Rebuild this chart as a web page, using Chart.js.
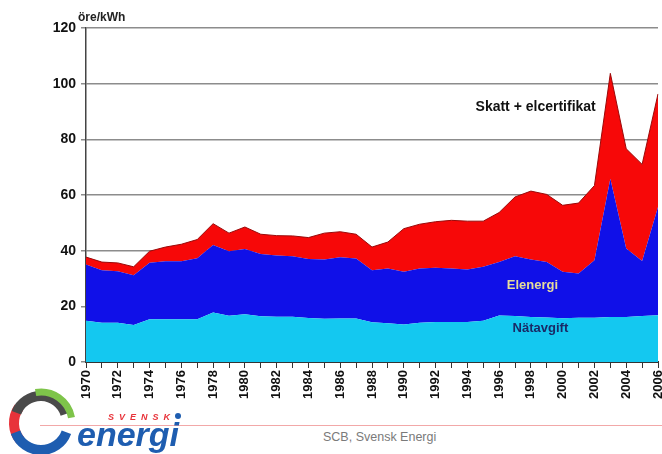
<!DOCTYPE html>
<html lang="sv">
<head>
<meta charset="UTF-8">
<title>Elpris öre/kWh</title>
<script src="https://cdn.jsdelivr.net/npm/chart.js"></script>
<style>
    body {
        margin: 0;
        width: 662px;
        height: 454px;
        background: #fff;
        position: relative;
        overflow: hidden;
        font-family: 'Liberation Sans', Arial, sans-serif;
    }
    .chart-box {
        position: absolute;
        left: 0;
        top: 0;
        width: 662px;
        height: 402px;
    }
    .unit {
        position: absolute;
        left: 78px;
        top: 10px;
        font-size: 12px;
        font-weight: bold;
        color: #222;
    }
    .rule {
        position: absolute;
        left: 40px;
        right: 0;
        top: 425px;
        height: 1px;
        background: #f2a8a8;
    }
    .source {
        position: absolute;
        left: 323px;
        top: 430px;
        font-size: 12.5px;
        color: #7a7a7a;
    }
    .logo {
        position: absolute;
        left: 0;
        top: 364px;
    }
</style>
</head>
<body>
<div class="chart-box"><canvas id="prisChart"></canvas></div>
<div class="unit">öre/kWh</div>
<div class="rule"></div>
<div class="source">SCB, Svensk Energi</div>
<svg class="logo" width="230" height="90" viewBox="0 0 230 90">
    <!-- virvel -->
    <path d="M20.3 76.4 A27 27 0 0 1 18.9 43.5" stroke="#e8333a" stroke-width="10" fill="none"/>
    <path d="M16.4 48.7 A26 26 0 0 1 65.4 50.1" stroke="#4a4a4a" stroke-width="10" fill="none"/>
    <path d="M35.6 28.5 A31 31 0 0 1 71.5 53.6" stroke="#7ec44a" stroke-width="7" fill="none"/>
    <path d="M66.4 68.2 A27 27 0 0 1 15.6 68.2" stroke="#1e5db0" stroke-width="10" fill="none"/>
    <text x="108" y="56" font-size="9" font-weight="bold" font-style="italic" fill="#e8333a" letter-spacing="5">SVENSK</text>
    <circle cx="178" cy="52" r="3" fill="#1e5db0"/>
    <text x="77" y="82" font-size="34" font-weight="bold" font-style="italic" fill="#1e5db0">energi</text>
</svg>

<script>
    // Värden läses av från bilden (öre/kWh), staplade ytor
    const years = ['1970','1971','1972','1973','1974','1975','1976','1977','1978','1979',
                   '1980','1981','1982','1983','1984','1985','1986','1987','1988','1989',
                   '1990','1991','1992','1993','1994','1995','1996','1997','1998','1999',
                   '2000','2001','2002','2003','2004','2005','2006'];
    const natavgift = [14.8, 14.1, 14.1, 13.3, 15.4, 15.4, 15.4, 15.4, 17.8, 16.6,
                       17.2, 16.4, 16.3, 16.3, 15.8, 15.5, 15.6, 15.6, 14.3, 13.9,
                       13.5, 14.1, 14.4, 14.4, 14.4, 14.8, 16.7, 16.5, 16.2, 16.0,
                       15.7, 15.9, 15.9, 16.2, 16.2, 16.5, 16.8];
    const elenergi = [20.2, 18.9, 18.5, 17.9, 20.3, 20.8, 20.8, 21.9, 24.2, 23.2,
                      23.4, 22.4, 22.0, 21.7, 21.2, 21.3, 22.0, 21.6, 18.7, 19.7,
                      18.9, 19.5, 19.5, 19.2, 18.8, 19.4, 19.2, 21.5, 20.6, 19.9,
                      16.7, 15.9, 20.7, 49.6, 24.6, 19.8, 38.9];
    const skatt = [2.7, 2.9, 3.0, 3.0, 4.1, 5.1, 6.1, 6.7, 7.7, 6.5,
                   7.9, 7.1, 7.1, 7.3, 7.7, 9.5, 9.2, 8.7, 8.3, 9.5,
                   15.5, 15.9, 16.5, 17.3, 17.4, 16.4, 17.8, 21.3, 24.6, 24.3,
                   23.9, 25.3, 26.8, 37.9, 35.8, 34.7, 40.6];
    const yTicks = [0, 20, 40, 60, 80, 100, 120];

    // Texter inne i diagrammet (år-index, värde)
    const areaLabels = [
        { text: 'Skatt + elcertifikat', x: 28.3, y: 91.4, color: '#111', size: 14 },
        { text: 'Elenergi', x: 28.1, y: 27.6, color: '#e6dc9a', size: 13 },
        { text: 'Nätavgift', x: 28.6, y: 12, color: '#1a2a66', size: 13 }
    ];

    const labelPlugin = {
        id: 'areaLabels',
        afterDatasetsDraw(chart) {
            const ctx = chart.ctx;
            const xs = chart.scales.x, ys = chart.scales.y;
            ctx.save();
            ctx.textAlign = 'center';
            ctx.textBaseline = 'middle';
            areaLabels.forEach(l => {
                ctx.font = 'bold ' + l.size + 'px "Liberation Sans", Arial, sans-serif';
                ctx.fillStyle = l.color;
                ctx.fillText(l.text, xs.getPixelForValue(l.x), ys.getPixelForValue(l.y));
            });
            ctx.restore();
        }
    };

    new Chart(document.getElementById('prisChart'), {
        type: 'line',
        data: {
            labels: years,
            datasets: [
                {
                    label: 'Nätavgift',
                    data: natavgift,
                    backgroundColor: '#14c8f0',
                    borderWidth: 0,
                    fill: 'origin'
                },
                {
                    label: 'Elenergi',
                    data: elenergi,
                    backgroundColor: '#1010e8',
                    borderWidth: 0,
                    fill: '-1'
                },
                {
                    label: 'Skatt + elcertifikat',
                    data: skatt,
                    backgroundColor: '#f70808',
                    borderColor: '#9a0a0a',
                    borderWidth: 1,
                    fill: '-1'
                }
            ]
        },
        options: {
            responsive: true,
            maintainAspectRatio: false,
            animation: false,
            layout: { padding: { top: 28, right: 4, left: 0, bottom: 0 } },
            elements: { point: { radius: 0 }, line: { tension: 0 } },
            plugins: {
                legend: { display: false },
                tooltip: { enabled: false }
            },
            scales: {
                x: {
                    offset: false,
                    grid: { drawOnChartArea: false, drawTicks: true, tickLength: 6, color: '#333' },
                    border: { color: '#333', width: 2 },
                    ticks: {
                        autoSkip: false,
                        minRotation: 90,
                        maxRotation: 90,
                        padding: 2,
                        color: '#111',
                        font: { family: 'Liberation Sans', size: 13, weight: 'bold' },
                        callback: (v, i) => (Number(years[i]) % 2 === 0 ? years[i] : '')
                    },
                    afterFit: s => { s.height = 40; s.paddingLeft = 0; s.paddingRight = 0; }
                },
                y: {
                    stacked: true,
                    min: 0,
                    max: 120,
                    afterBuildTicks: s => { s.ticks = yTicks.map(v => ({ value: v })); },
                    grid: { color: '#8c8c8c', lineWidth: 1.5, tickLength: 5 },
                    border: { color: '#444', width: 1.5 },
                    ticks: {
                        padding: 5,
                        color: '#111',
                        font: { family: 'Liberation Sans', size: 14, weight: 'bold' }
                    },
                    afterFit: s => { s.width = 86; }
                }
            }
        },
        plugins: [labelPlugin]
    });
</script>
</body>
</html>
